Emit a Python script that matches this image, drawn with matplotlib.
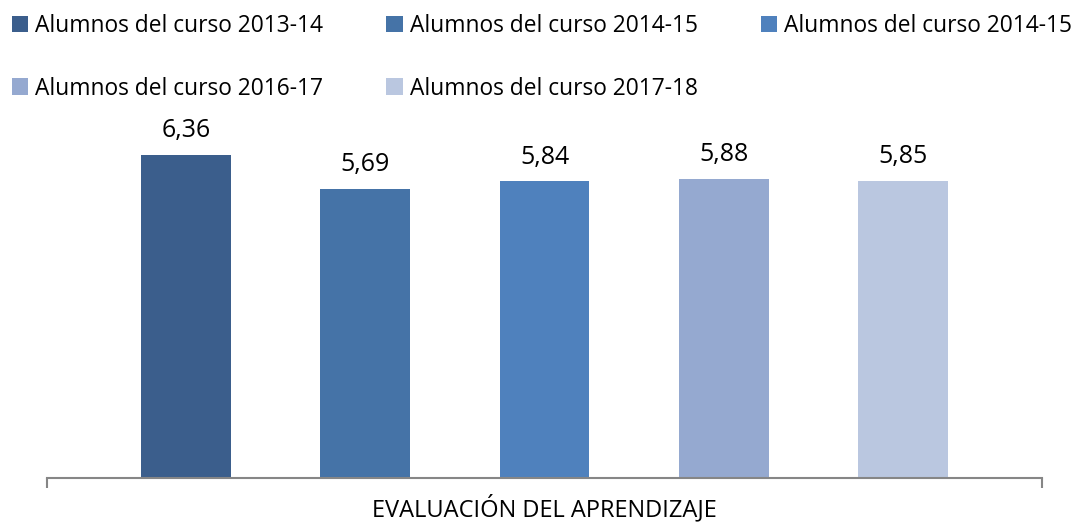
import matplotlib.pyplot as plt
from matplotlib.patches import Patch

# data
series = ["Alumnos del curso 2013-14", "Alumnos del curso 2014-15",
          "Alumnos del curso 2014-15", "Alumnos del curso 2016-17",
          "Alumnos del curso 2017-18"]
values = [6.36, 5.69, 5.84, 5.88, 5.85]
category = "EVALUACIÓN DEL APRENDIZAJE"
colors = ["#3B5E8C", "#4573A7", "#4F81BD", "#95A9D0", "#BAC7E0"]

plt.rcParams['font.family'] = ['Open Sans', 'DejaVu Sans']

fig = plt.figure(figsize=(10.74, 5.23), dpi=100)
ax = fig.add_axes([47/1074, 45/523, 995/1074, 355.6/523])

xs = list(range(len(values)))
bars = ax.bar(xs, values, width=0.502, color=colors)
for x, v in zip(xs, values):
    ax.annotate(f"{v:.2f}".replace(".", ","), (x, v), xytext=(0, 8.5),
                textcoords="offset points", ha="center", va="bottom",
                fontsize=18, color="#000000")

ax.set_xlim(-0.775, 4.775)
ax.set_ylim(0, 7)
for s in ["top", "right", "left"]:
    ax.spines[s].set_visible(False)
ax.spines["bottom"].set_color("#868686")
ax.spines["bottom"].set_linewidth(1.5)
ax.set_yticks([])
ax.set_xticks([-0.775, 4.775])
ax.set_xticklabels([])
ax.tick_params(axis="x", length=7, width=1.5, color="#868686")
fig.text(544.5/1074, 1 - 509/523, category, ha="center", va="center",
         fontsize=17)

# legend, row-major order
handles = [Patch(facecolor=c, label=l) for c, l in zip(colors, series)]
order = [0, 3, 1, 4, 2]
fig.legend([handles[i] for i in order], [series[i] for i in order],
           ncol=3, loc="upper left", bbox_to_anchor=(5/1074, 1 - 7/523),
           frameon=False, fontsize=16.4, handlelength=0.72, handleheight=0.72,
           handletextpad=0.3, columnspacing=2.78, labelspacing=1.70,
           borderaxespad=0, borderpad=0.3)

fig.savefig("out.png", dpi=100)
